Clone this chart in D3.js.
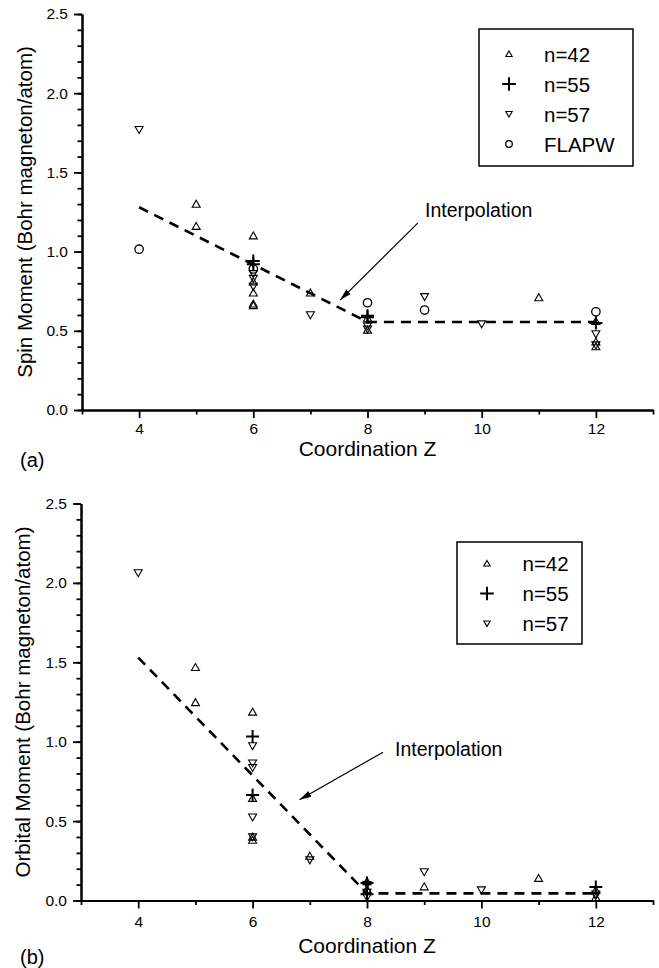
<!DOCTYPE html>
<html>
<head>
<meta charset="utf-8">
<script src="https://cdn.jsdelivr.net/npm/d3@7"></script>
<style>
  body { margin: 0; background: #fff; }
  text { font-family: "Liberation Sans", Arial, sans-serif; fill: #000; }
</style>
</head>
<body>
<div class="canvas"></div>
<script>
// tick values
const zTicks = [4, 6, 8, 10, 12]
const zMinor = [3, 5, 7, 9, 11, 13]
const momentTicks = [0, 0.5, 1.0, 1.5, 2.0, 2.5]
const momentMinor = d3.range(0, 2.51, 0.1)

// (a) spin moment, [Z, moment]
const spinN42 = [[5, 1.30], [5, 1.16], [6, 1.10], [6, 0.81], [6, 0.74], [6, 0.67], [6, 0.66],
  [7, 0.74], [8, 0.58], [8, 0.505], [11, 0.71], [12, 0.56], [12, 0.43], [12, 0.40]]
const spinN55 = [[6, 0.94], [6, 0.92], [8, 0.595], [8, 0.585], [12, 0.55]]
const spinN57 = [[4, 1.77], [6, 0.86], [6, 0.83], [6, 0.78], [7, 0.60], [8, 0.53], [8, 0.51],
  [9, 0.715], [10, 0.543], [12, 0.48], [12, 0.41]]
const spinFlapw = [[4, 1.015], [6, 0.89], [8, 0.677], [9, 0.631], [12, 0.62]]
const spinFit = [[4, 1.28], [8, 0.556], [12, 0.556]]
const spinArrow = [[8.88, 1.18], [7.52, 0.694]]

// (b) orbital moment, [Z, moment]
const orbN42 = [[5, 1.468], [5, 1.247], [6, 1.187], [6, 0.644], [6, 0.40], [6, 0.38], [7, 0.28],
  [8, 0.12], [8, 0.07], [9, 0.087], [11, 0.14], [12, 0.065], [12, 0.02]]
const orbN55 = [[6, 1.033], [6, 0.665], [8, 0.11], [8, 0.04], [12, 0.085]]
const orbN57 = [[4, 2.063], [6, 0.974], [6, 0.865], [6, 0.837], [6, 0.525], [6, 0.40], [7, 0.255],
  [8, 0.10], [8, 0.05], [8, 0.02], [9, 0.18], [10, 0.066], [12, 0.04], [12, 0.03]]
const orbFit = [[4, 1.53], [8, 0.045], [12, 0.045]]
const orbArrow = [[8.28, 0.934], [6.82, 0.634]]

const canvas = d3.select('.canvas')
const svg = canvas.append('svg')
    .attr('width', 659)
    .attr('height', 968)

// arrow head
svg.append('defs').append('marker')
    .attr('id', 'head')
    .attr('viewBox', '0 0 12 8')
    .attr('refX', 12)
    .attr('refY', 4)
    .attr('markerWidth', 12)
    .attr('markerHeight', 8)
    .attr('markerUnits', 'userSpaceOnUse')
    .attr('orient', 'auto')
  .append('path')
    .attr('d', 'M0,0.8L12,4L0,7.2Z')
    .attr('fill', '#000')

// marker shapes
function symbolPath(kind, s) {
  const w = 8 * s, h = 7 * s
  if (kind === 'up') return `M0,${-h * 0.55}L${w / 2},${h * 0.45}L${-w / 2},${h * 0.45}Z`
  if (kind === 'down') return `M0,${h * 0.55}L${w / 2},${-h * 0.45}L${-w / 2},${-h * 0.45}Z`
  if (kind === 'plus') return `M${-6.5 * s},0H${6.5 * s}M0,${-6.5 * s}V${6.5 * s}`
  return null
}

function drawMarks(g, x, y, pts, kind) {
  if (kind === 'circle') {
    g.selectAll(null).data(pts).enter().append('circle')
        .attr('cx', d => x(d[0]))
        .attr('cy', d => y(d[1]))
        .attr('r', 4.2)
        .attr('fill', 'none')
        .attr('stroke', '#000')
        .attr('stroke-width', 1.3)
    return
  }
  g.selectAll(null).data(pts).enter().append('path')
      .attr('transform', d => `translate(${x(d[0])},${y(d[1])})`)
      .attr('d', symbolPath(kind, 1))
      .attr('fill', 'none')
      .attr('stroke', '#000')
      .attr('stroke-width', kind === 'plus' ? 2 : 1.1)
}

function drawPanel(p) {
  const x = d3.scaleLinear().domain([3, 13]).range([p.left, 653])
  const y = d3.scaleLinear().domain([0, 2.5]).range([p.bottom, p.top])
  const g = svg.append('g')

  // axes, minor first
  g.append('g')
      .attr('transform', `translate(0,${p.bottom})`)
      .call(d3.axisBottom(x).tickValues(zMinor).tickSize(4.5).tickSizeOuter(0).tickFormat(''))
  g.append('g')
      .attr('transform', `translate(0,${p.bottom})`)
      .call(d3.axisBottom(x).tickValues(zTicks).tickSize(8).tickSizeOuter(0).tickPadding(p.xPad)
        .tickFormat(d3.format('d')))
  g.append('g')
      .attr('transform', `translate(${p.left},0)`)
      .call(d3.axisLeft(y).tickValues(momentMinor).tickSize(4.5).tickSizeOuter(0).tickFormat(''))
  g.append('g')
      .attr('transform', `translate(${p.left},0)`)
      .call(d3.axisLeft(y).tickValues(momentTicks).tickSize(8).tickSizeOuter(0).tickPadding(6)
        .tickFormat(d3.format('.1f')))
  g.selectAll('.domain').attr('stroke', '#000').attr('stroke-width', 2)
  g.selectAll('.tick line').attr('stroke', '#000').attr('stroke-width', 1.8)
  g.selectAll('.tick text')
      .style('font-family', '"Liberation Sans", Arial, sans-serif')
      .style('font-size', '15.5px')
      .attr('fill', '#000')

  // interpolation line
  const line = d3.line().x(d => x(d[0])).y(d => y(d[1]))
  g.append('path')
      .attr('d', line(p.fit))
      .attr('fill', 'none')
      .attr('stroke', '#000')
      .attr('stroke-width', 2.6)
      .attr('stroke-dasharray', '10,7')

  // points
  p.series.forEach(s => drawMarks(g, x, y, s.pts, s.kind))

  // annotation
  g.append('line')
      .attr('x1', x(p.arrow[0][0]))
      .attr('y1', y(p.arrow[0][1]))
      .attr('x2', x(p.arrow[1][0]))
      .attr('y2', y(p.arrow[1][1]))
      .attr('stroke', '#000')
      .attr('stroke-width', 1.2)
      .attr('marker-end', 'url(#head)')
  g.append('text')
      .attr('x', p.noteX)
      .attr('y', p.noteY)
      .style('font-size', '19.5px')
      .text('Interpolation')

  // legend
  const lg = g.append('g')
  lg.append('rect')
      .attr('x', p.legend.x)
      .attr('y', p.legend.y)
      .attr('width', p.legend.w)
      .attr('height', p.legend.h)
      .attr('fill', 'none')
      .attr('stroke', '#000')
      .attr('stroke-width', 1.5)
  p.series.forEach((s, i) => {
    const cy = p.legend.y + p.legend.first + i * 30
    const sx = p.legend.x + p.legend.symX
    if (s.kind === 'circle') {
      lg.append('circle').attr('cx', sx).attr('cy', cy).attr('r', 3.3)
          .attr('fill', 'none').attr('stroke', '#000').attr('stroke-width', 1.3)
    } else {
      lg.append('path')
          .attr('transform', `translate(${sx},${cy})`)
          .attr('d', symbolPath(s.kind, s.kind === 'plus' ? 1.05 : 0.8))
          .attr('fill', 'none')
          .attr('stroke', '#000')
          .attr('stroke-width', s.kind === 'plus' ? 2 : 1.1)
    }
    lg.append('text')
        .attr('x', p.legend.x + p.legend.textX)
        .attr('y', cy + 7.5)
        .style('font-size', '20.5px')
        .text(s.name)
  })

  // titles
  g.append('text')
      .attr('transform', `translate(${p.yTitleX},${(p.top + p.bottom) / 2}) rotate(-90)`)
      .attr('text-anchor', 'middle')
      .style('font-size', '20.5px')
      .text(p.yTitle)
  g.append('text')
      .attr('x', (p.left + 653) / 2)
      .attr('y', p.xTitleY)
      .attr('text-anchor', 'middle')
      .style('font-size', '21px')
      .text('Coordination Z')
  g.append('text')
      .attr('x', 20)
      .attr('y', p.tagY)
      .style('font-size', '20px')
      .text(p.tag)
}

drawPanel({
  left: 82, top: 14, bottom: 410, xPad: 5,
  series: [
    { name: 'n=42', kind: 'up', pts: spinN42 },
    { name: 'n=55', kind: 'plus', pts: spinN55 },
    { name: 'n=57', kind: 'down', pts: spinN57 }
    , { name: 'FLAPW', kind: 'circle', pts: spinFlapw }
  ],
  fit: spinFit,
  arrow: spinArrow,
  noteX: 425, noteY: 217,
  legend: { x: 479, y: 29, w: 154, h: 137, first: 25, symX: 30, textX: 65 },
  yTitle: 'Spin Moment (Bohr magneton/atom)', yTitleX: 32,
  xTitleY: 456, tag: '(a)', tagY: 467
})

drawPanel({
  left: 81, top: 503.5, bottom: 900.5, xPad: 7,
  series: [
    { name: 'n=42', kind: 'up', pts: orbN42 },
    { name: 'n=55', kind: 'plus', pts: orbN55 },
    { name: 'n=57', kind: 'down', pts: orbN57 }
  ],
  fit: orbFit,
  arrow: orbArrow,
  noteX: 395, noteY: 756,
  legend: { x: 457, y: 542, w: 125, h: 102, first: 21.5, symX: 30, textX: 65.5 },
  yTitle: 'Orbital Moment (Bohr magneton/atom)', yTitleX: 30,
  xTitleY: 953, tag: '(b)', tagY: 964
})
</script>
</body>
</html>
